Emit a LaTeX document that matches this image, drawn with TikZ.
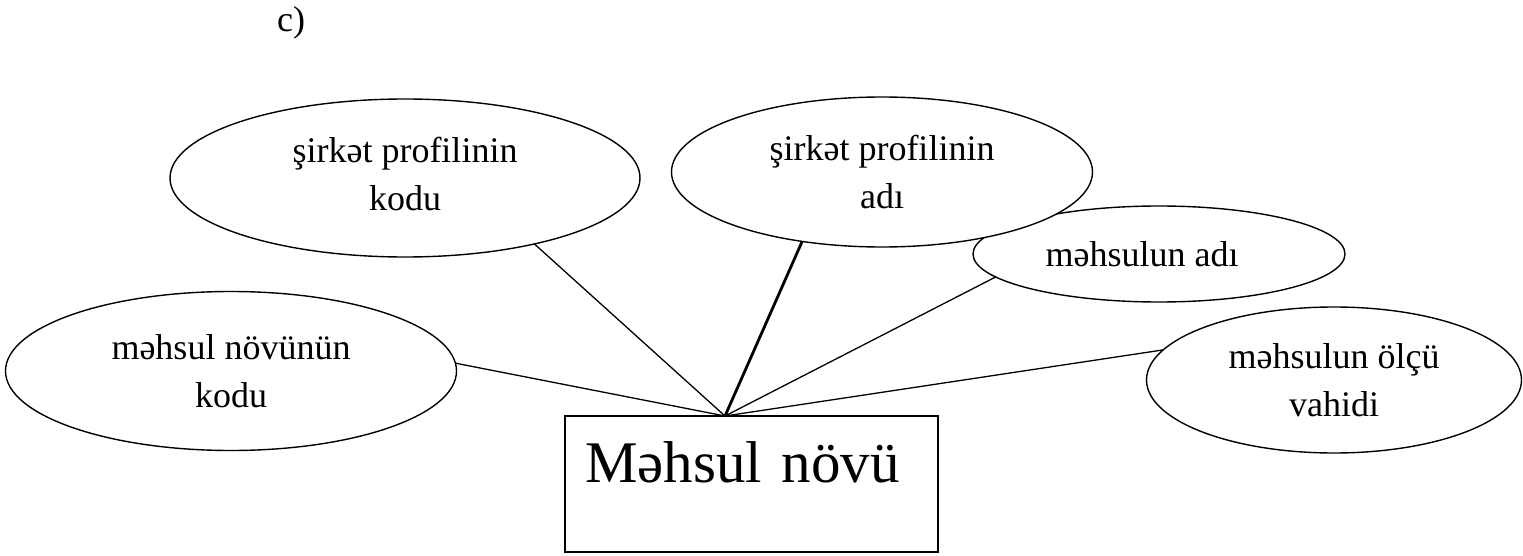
\documentclass[tikz,border=0pt]{standalone}
\usepackage{fontspec}
\setmainfont{Liberation Serif}
\usetikzlibrary{shapes.geometric}
\begin{document}
\begin{tikzpicture}[x=1pt,y=1pt,
  attr/.style={ellipse, draw, line width=1.4pt, fill=white, inner sep=0pt, outer sep=0pt, align=center, font=\fontsize{36}{48}\selectfont},
  entity/.style={rectangle, draw, line width=1.4pt, inner ysep=0pt, inner xsep=20pt, outer sep=0pt, text width=333pt, align=left, text height=66pt, text depth=70pt, font=\fontsize{59}{72}\selectfont},
  link/.style={line width=1.3pt},
  boldlink/.style={line width=2.8pt}]
\useasboundingbox (0,0) rectangle (1523,-556);
\node[anchor=base west, font=\fontsize{36}{44}\selectfont, inner sep=0pt] (lbl) at (277,-32) {c)};
\node[attr, minimum width=372pt, minimum height=96pt] (e3) at (1159,-254) {məhsulun adı\makebox[34pt]{}};
\node[attr, minimum width=421pt, minimum height=150pt] (e2) at (882,-172) {şirkət profilinin\\adı};
\node[attr, minimum width=470pt, minimum height=158pt] (e1) at (405,-178) {şirkət profilinin\\kodu\rule[-8pt]{0pt}{0pt}};
\node[attr, minimum width=451pt, minimum height=159pt] (e4) at (231,-371) {məhsul növünün\\kodu};
\node[attr, minimum width=375pt, minimum height=146pt] (e5) at (1334,-380) {məhsulun ölçü\\vahidi};
\node[entity, anchor=north west] (r) at (565,-416) {Məhsul növü};
\coordinate (apex) at ([xshift=160pt]r.north west);
\draw[link] (apex) -- (e1.-27.6);
\draw[boldlink] (apex) -- (e2.221.9);
\draw[link] (apex) -- (e3.188.2);
\draw[link] (apex) -- (e4.2.3);
\draw[link] (apex) -- (e5.170.8);
\end{tikzpicture}
\end{document}
